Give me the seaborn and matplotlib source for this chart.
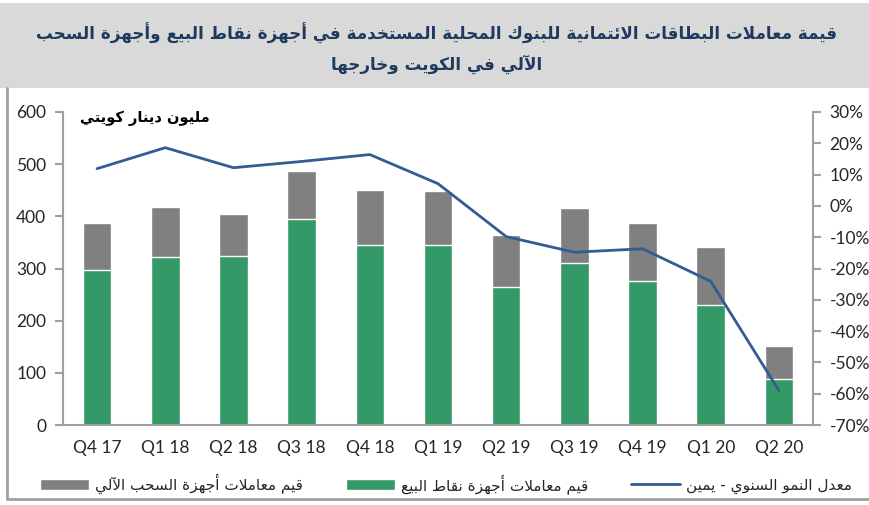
import numpy as np
import matplotlib
matplotlib.use('Agg')
import matplotlib.pyplot as plt
import seaborn as sns
from matplotlib.patches import Patch, Rectangle
from matplotlib.lines import Line2D

# data
quarters = ['Q4 17', 'Q1 18', 'Q2 18', 'Q3 18', 'Q4 18', 'Q1 19',
            'Q2 19', 'Q3 19', 'Q4 19', 'Q1 20', 'Q2 20']
pos_values = [297, 322, 324, 394, 346, 345, 265, 311, 276, 230, 88]
atm_values = [91, 96, 80, 93, 104, 103, 99, 105, 112, 111, 63]
growth_pct = [11.9, 18.6, 12.2, 14.2, 16.4, 7.1, -9.8, -14.8, -13.7, -24.1, -59.0]

title_line1 = 'قيمة معاملات البطاقات الائتمانية للبنوك المحلية المستخدمة في أجهزة نقاط البيع وأجهزة السحب'
title_line2 = 'الآلي في الكويت وخارجها'
unit_label = 'مليون دينار كويتي'
atm_label = 'قيم معاملات أجهزة السحب الآلي'
pos_label = 'قيم معاملات أجهزة نقاط البيع'
growth_label = 'معدل النمو السنوي - يمين'

GREEN = '#339966'
GREY = '#808080'
BLUE = '#335b94'
AXIS_GREY = '#a0a0a0'

# --- small arabic shaper (matplotlib has no RTL / joining support) ---
_forms = [('ء', 0xFE80, 1), ('آ', 0xFE81, 2), ('أ', 0xFE83, 2), ('ؤ', 0xFE85, 2),
          ('إ', 0xFE87, 2), ('ئ', 0xFE89, 4), ('ا', 0xFE8D, 2), ('ب', 0xFE8F, 4),
          ('ة', 0xFE93, 2), ('ت', 0xFE95, 4), ('ث', 0xFE99, 4), ('ج', 0xFE9D, 4),
          ('ح', 0xFEA1, 4), ('خ', 0xFEA5, 4), ('د', 0xFEA9, 2), ('ذ', 0xFEAB, 2),
          ('ر', 0xFEAD, 2), ('ز', 0xFEAF, 2), ('س', 0xFEB1, 4), ('ش', 0xFEB5, 4),
          ('ص', 0xFEB9, 4), ('ض', 0xFEBD, 4), ('ط', 0xFEC1, 4), ('ظ', 0xFEC5, 4),
          ('ع', 0xFEC9, 4), ('غ', 0xFECD, 4), ('ف', 0xFED1, 4), ('ق', 0xFED5, 4),
          ('ك', 0xFED9, 4), ('ل', 0xFEDD, 4), ('م', 0xFEE1, 4), ('ن', 0xFEE5, 4),
          ('ه', 0xFEE9, 4), ('و', 0xFEED, 2), ('ى', 0xFEEF, 2), ('ي', 0xFEF1, 4)]
FORMS = {c: (b, n) for c, b, n in _forms}
LAM_ALEF = {'آ': 0xFEF5, 'أ': 0xFEF7, 'إ': 0xFEF9, 'ا': 0xFEFB}


def ar(text):
    chars = []
    i = 0
    while i < len(text):
        c = text[i]
        if c == 'ل' and i + 1 < len(text) and text[i + 1] in LAM_ALEF:
            chars.append((c, LAM_ALEF[text[i + 1]], 2))
            i += 2
        elif c in FORMS:
            chars.append((c, *FORMS[c]))
            i += 1
        else:
            chars.append((c, None, 0))
            i += 1
    out = []
    for k, (c, base, n) in enumerate(chars):
        if base is None:
            out.append(c)
            continue
        prev = chars[k - 1] if k > 0 else None
        nxt = chars[k + 1] if k + 1 < len(chars) else None
        jp = n >= 2 and prev is not None and prev[2] == 4
        jn = n == 4 and nxt is not None and nxt[2] >= 2
        f = 3 if (jp and jn) else 1 if jp else 2 if jn else 0
        out.append(chr(base + f))
    return ''.join(reversed(out))


sns.set_style('white')
plt.rcParams['font.family'] = ['DejaVu Sans']

fig = plt.figure(figsize=(8.7, 5.05), dpi=100)

# title band and frame
fig.patches.append(Rectangle((0, 1 - 88 / 505), 1, 85 / 505, transform=fig.transFigure,
                             facecolor='#d9d9d9', edgecolor='none', zorder=0))
fig.add_artist(Line2D([7 / 870, 7 / 870], [1 - 88 / 505, 1 - 499 / 505],
                      transform=fig.transFigure, color=AXIS_GREY, lw=2))
fig.add_artist(Line2D([7 / 870, 1], [1 - 499 / 505, 1 - 499 / 505],
                      transform=fig.transFigure, color=AXIS_GREY, lw=2))
fig.text(437 / 870, 1 - 33 / 505, ar(title_line1), ha='center', va='center',
         fontsize=12.1, fontweight='bold', color='#1f3a5f')
fig.text(437 / 870, 1 - 64 / 505, ar(title_line2), ha='center', va='center',
         fontsize=12.1, fontweight='bold', color='#1f3a5f')

ax = fig.add_axes([63 / 870, 1 - 425 / 505, 750 / 870, 313 / 505])
totals = [p + a for p, a in zip(pos_values, atm_values)]
sns.barplot(x=quarters, y=totals, color=GREY, saturation=1, width=0.42, ax=ax)
sns.barplot(x=quarters, y=pos_values, color=GREEN, saturation=1, width=0.42, ax=ax)

ax.set_ylim(0, 600)
ax.set_yticks(range(0, 601, 100))
ax.set_xlim(-0.5, len(quarters) - 0.5)
ax.set_xticks(np.arange(-0.5, len(quarters)), minor=True)
ax.tick_params(axis='x', which='major', length=0, pad=11)
ax.tick_params(axis='x', which='minor', length=6, color=AXIS_GREY, width=1.5, direction='out')
ax.tick_params(axis='y', length=6, color=AXIS_GREY, width=1.5, direction='out', pad=6)
for lab in ax.get_xticklabels() + ax.get_yticklabels():
    lab.set_fontfamily('Lato')
    lab.set_fontsize(12.5)
for side in ['left', 'bottom']:
    ax.spines[side].set_color(AXIS_GREY)
    ax.spines[side].set_linewidth(1.5)
ax.spines['top'].set_visible(False)
ax.spines['right'].set_visible(False)

ax2 = ax.twinx()
sns.lineplot(x=np.arange(len(quarters)), y=growth_pct, color=BLUE, lw=2, ax=ax2)
ax2.set_ylim(-70, 30)
ax2.set_yticks(range(-70, 31, 10))
ax2.set_yticklabels([f'{v}%' for v in range(-70, 31, 10)], fontfamily='Lato', fontsize=12.5)
ax2.tick_params(axis='y', length=6, color=AXIS_GREY, width=1.5, direction='out', pad=6)
ax2.spines['right'].set_color(AXIS_GREY)
ax2.spines['right'].set_linewidth(1.5)
for side in ['top', 'left', 'bottom']:
    ax2.spines[side].set_visible(False)
ax2.set_xlim(-0.5, len(quarters) - 0.5)

ax.text(17 / 750, 0.98, ar(unit_label), transform=ax.transAxes, ha='left', va='center',
        fontsize=10.5, fontweight='bold', color='black')

handles = [Patch(facecolor=GREY), Patch(facecolor=GREEN), Line2D([], [], color=BLUE, lw=2)]
labels = [ar(atm_label), ar(pos_label), ar(growth_label)]
fig.legend(handles, labels, loc='center', bbox_to_anchor=(446 / 870, 1 - 484 / 505), ncol=3,
           frameon=False, fontsize=11, handlelength=3.2, handleheight=0.8,
           columnspacing=2.8, handletextpad=0.4)

fig.savefig('out.png', dpi=100)
